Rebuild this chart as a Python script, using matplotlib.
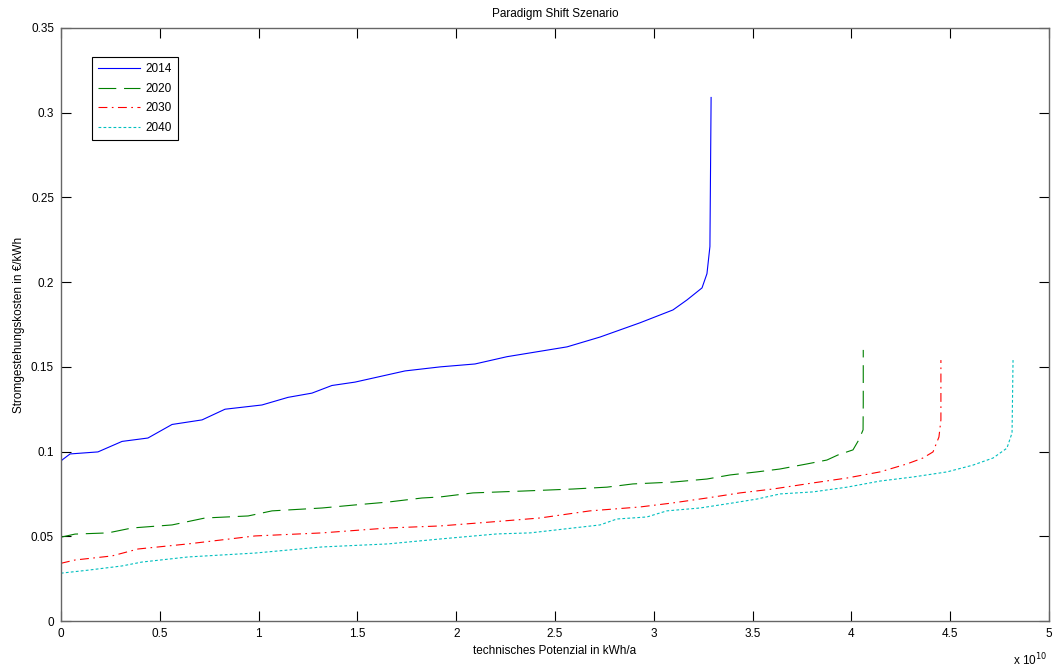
import matplotlib
matplotlib.use("Agg")
import matplotlib.pyplot as plt
from matplotlib.ticker import FuncFormatter, MultipleLocator

plt.rcParams['font.family'] = ['Liberation Sans', 'DejaVu Sans']

# potential in units of 1e10 kWh/a, cost in EUR/kWh
x_2014 = [0.0, 0.005, 0.046, 0.187, 0.309, 0.44, 0.562, 0.714, 0.83, 1.017, 1.149, 1.27,
          1.371, 1.488, 1.741, 1.92, 2.095, 2.257, 2.561, 2.728, 2.93, 3.097, 3.168,
          3.244, 3.269, 3.284, 3.29]
y_2014 = [0.094, 0.095, 0.0986, 0.0998, 0.106, 0.108, 0.116, 0.1187, 0.125, 0.1275, 0.132,
          0.1345, 0.139, 0.141, 0.1476, 0.150, 0.1517, 0.156, 0.1618, 0.1676, 0.176, 0.1836,
          0.1895, 0.1966, 0.205, 0.221, 0.309]

x_2020 = [0.0, 0.005, 0.071, 0.238, 0.359, 0.562, 0.729, 0.947, 1.068, 1.321, 1.488, 1.655,
          1.827, 1.918, 2.085, 2.338, 2.591, 2.763, 2.894, 3.097, 3.269, 3.386, 3.522,
          3.638, 3.775, 3.876, 3.932, 4.008, 4.038, 4.059, 4.06, 4.06]
y_2020 = [0.049, 0.0496, 0.0513, 0.052, 0.0549, 0.0567, 0.0608, 0.062, 0.065, 0.0667, 0.0685,
          0.0702, 0.0726, 0.0732, 0.0756, 0.0767, 0.0779, 0.079, 0.0809, 0.082, 0.0838,
          0.0862, 0.088, 0.0897, 0.0927, 0.095, 0.098, 0.101, 0.107, 0.1128, 0.1287, 0.160]

x_2030 = [0.0, 0.005, 0.071, 0.258, 0.39, 0.643, 0.982, 1.321, 1.655, 1.918, 2.171, 2.424,
          2.677, 2.93, 3.097, 3.269, 3.436, 3.603, 3.806, 3.978, 4.145, 4.281, 4.362, 4.413,
          4.443, 4.453, 4.453]
y_2030 = [0.034, 0.0342, 0.036, 0.0384, 0.0425, 0.0455, 0.0502, 0.052, 0.0549, 0.0561, 0.0584,
          0.0608, 0.065, 0.0673, 0.0697, 0.0726, 0.0756, 0.0779, 0.0815, 0.0844, 0.088,
          0.0927, 0.0962, 0.0998, 0.1086, 0.1187, 0.154]

x_2040 = [0.0, 0.005, 0.137, 0.309, 0.41, 0.643, 0.982, 1.321, 1.655, 1.918, 2.207, 2.374,
          2.728, 2.813, 2.965, 3.066, 3.234, 3.401, 3.523, 3.639, 3.806, 3.978, 4.145,
          4.312, 4.484, 4.615, 4.717, 4.787, 4.813, 4.818]
y_2040 = [0.028, 0.0283, 0.030, 0.0325, 0.0348, 0.0378, 0.0401, 0.0437, 0.0455, 0.0484, 0.0514,
          0.052, 0.0567, 0.0602, 0.0614, 0.065, 0.0667, 0.0697, 0.072, 0.075, 0.0762,
          0.079, 0.0826, 0.085, 0.088, 0.092, 0.0962, 0.102, 0.111, 0.154]

years = ['2014', '2020', '2030', '2040']
series_x = [x_2014, x_2020, x_2030, x_2040]
series_y = [y_2014, y_2020, y_2030, y_2040]
colors = ['#0000ff', '#008000', '#ff0000', '#00bfbf']
dashes = [None, (16, 7), (8, 4, 1.5, 4), (2.5, 2)]

fig = plt.figure(figsize=(10.61, 6.72), dpi=100)
ax = fig.add_axes([61 / 1061, 51 / 672, 988 / 1061, 593 / 672])

for xs, ys, c, d, lab in zip(series_x, series_y, colors, dashes, years):
    xv = [v * 1e10 for v in xs]
    line, = ax.plot(xv, ys, color=c, lw=0.8, label=lab)
    if d is not None:
        line.set_dashes(d)

ax.set_xlim(0, 5e10)
ax.set_ylim(0, 0.35)
ax.xaxis.set_major_locator(MultipleLocator(0.5e10))
ax.yaxis.set_major_locator(MultipleLocator(0.05))
ax.xaxis.set_major_formatter(FuncFormatter(lambda v, p: '%g' % round(v / 1e10, 3)))
ax.yaxis.set_major_formatter(FuncFormatter(lambda v, p: '%g' % round(v, 3)))
ax.tick_params(direction='in', length=7, width=0.8, top=True, right=True,
               labelsize=8.5, pad=5)
for s in ax.spines.values():
    s.set_color('#666666')
    s.set_linewidth(1.0)

ax.set_title('Paradigm Shift Szenario', fontsize=8.5, pad=8)
ax.set_xlabel('technisches Potenzial in kWh/a', fontsize=8.5, labelpad=4)
ax.set_ylabel('Stromgestehungskosten in €/kWh', fontsize=8.5, labelpad=4)
fig.text(1030 / 1061, 1 - 660 / 672, r'x 10$^{10}$', fontsize=8.5, ha='center', va='center')

leg = ax.legend(loc='upper left', bbox_to_anchor=(0.031, 0.951), fontsize=8.5,
                fancybox=False, edgecolor='black', handlelength=3.6, handletextpad=0.5,
                borderaxespad=0, labelspacing=0.65, borderpad=0.5, framealpha=1)
leg.get_frame().set_linewidth(0.8)

fig.savefig('out.png', dpi=100)
